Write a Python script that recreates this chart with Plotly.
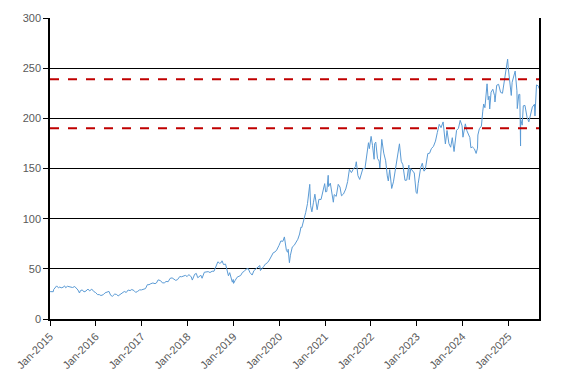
import plotly.graph_objects as go

dates = [
"2015-01-02","2015-01-14","2015-01-27","2015-01-30","2015-02-13","2015-02-23","2015-03-10","2015-03-20","2015-03-31","2015-04-15","2015-04-27","2015-05-06","2015-05-20","2015-06-05","2015-06-19","2015-06-30","2015-07-17","2015-07-31","2015-08-12","2015-08-24","2015-08-31","2015-09-15","2015-09-29","2015-10-15","2015-10-30","2015-11-13","2015-11-30","2015-12-15","2015-12-31",
"2016-01-15","2016-01-29","2016-02-11","2016-02-29","2016-03-15","2016-03-31","2016-04-15","2016-04-28","2016-05-12","2016-05-31","2016-06-15","2016-06-27","2016-07-15","2016-07-29","2016-08-15","2016-08-31","2016-09-15","2016-09-30","2016-10-14","2016-10-31","2016-11-14","2016-11-30","2016-12-15","2016-12-30",
"2017-01-13","2017-01-31","2017-02-15","2017-02-28","2017-03-15","2017-03-31","2017-04-17","2017-04-28","2017-05-12","2017-05-31","2017-06-15","2017-06-30","2017-07-14","2017-07-31","2017-08-15","2017-08-31","2017-09-15","2017-09-29","2017-10-13","2017-10-31","2017-11-15","2017-11-30","2017-12-15","2017-12-29",
"2018-01-12","2018-01-31","2018-02-08","2018-02-27","2018-03-12","2018-03-23","2018-04-02","2018-04-16","2018-04-27","2018-05-15","2018-05-31","2018-06-15","2018-06-29","2018-07-16","2018-07-31","2018-08-15","2018-08-31","2018-09-14","2018-09-28","2018-10-03","2018-10-15","2018-10-31","2018-11-15","2018-11-23","2018-12-03","2018-12-14","2018-12-24","2018-12-31",
"2019-01-03","2019-01-15","2019-01-31","2019-02-15","2019-02-28","2019-03-15","2019-03-29","2019-04-15","2019-04-30","2019-05-13","2019-05-31","2019-06-14","2019-06-28","2019-07-15","2019-07-31","2019-08-05","2019-08-15","2019-08-30","2019-09-13","2019-09-30","2019-10-15","2019-10-31","2019-11-15","2019-11-29","2019-12-13","2019-12-31",
"2020-01-15","2020-01-31","2020-02-12","2020-02-28","2020-03-09","2020-03-13","2020-03-16","2020-03-23","2020-03-31","2020-04-15","2020-04-30","2020-05-15","2020-05-29","2020-06-12","2020-06-23","2020-06-30","2020-07-15","2020-07-31","2020-08-14","2020-08-31","2020-09-01","2020-09-08","2020-09-18","2020-09-30","2020-10-12","2020-10-30","2020-11-13","2020-11-30","2020-12-15","2020-12-29",
"2021-01-06","2021-01-15","2021-01-26","2021-01-29","2021-02-12","2021-02-26","2021-03-08","2021-03-15","2021-03-31","2021-04-16","2021-04-30","2021-05-12","2021-05-28","2021-06-15","2021-06-30","2021-07-14","2021-07-30","2021-08-13","2021-08-31","2021-09-07","2021-09-20","2021-10-04","2021-10-15","2021-10-29","2021-11-15","2021-11-30","2021-12-13","2021-12-20",
"2022-01-03","2022-01-14","2022-01-27","2022-01-31","2022-02-09","2022-02-23","2022-03-08","2022-03-14","2022-03-29","2022-04-14","2022-04-29","2022-05-12","2022-05-20","2022-05-31","2022-06-16","2022-06-30","2022-07-15","2022-07-29","2022-08-17","2022-08-31","2022-09-13","2022-09-30","2022-10-14","2022-10-31","2022-11-03","2022-11-15","2022-11-30","2022-12-13","2022-12-28",
"2023-01-05","2023-01-13","2023-02-02","2023-02-15","2023-02-28","2023-03-10","2023-03-31","2023-04-14","2023-04-28","2023-05-15","2023-05-31","2023-06-15","2023-06-30","2023-07-14","2023-07-31","2023-08-18","2023-08-31","2023-09-15","2023-09-29","2023-10-12","2023-10-26","2023-11-15","2023-11-30","2023-12-14","2023-12-29",
"2024-01-05","2024-01-24","2024-02-05","2024-02-15","2024-02-29","2024-03-08","2024-03-21","2024-04-05","2024-04-19","2024-04-30","2024-05-03","2024-05-15","2024-05-31","2024-06-11","2024-06-18","2024-06-28","2024-07-15","2024-07-24","2024-07-31","2024-08-05","2024-08-16","2024-08-30","2024-09-13","2024-09-16","2024-09-30","2024-10-15","2024-10-31","2024-11-15","2024-11-29","2024-12-16","2024-12-26","2024-12-31",
"2025-01-10","2025-01-16","2025-01-24","2025-01-31","2025-02-14","2025-02-24","2025-03-10","2025-03-13","2025-03-25","2025-04-02","2025-04-08","2025-04-09","2025-04-21","2025-04-30","2025-05-13","2025-05-30","2025-06-13","2025-06-30","2025-07-11","2025-07-28","2025-08-01","2025-08-13","2025-08-29","2025-09-02",
]

prices = [
27.3,27.4,27.2,29.3,31.8,33.0,31.0,31.9,31.1,31.6,33.0,31.2,32.6,32.0,31.7,31.4,32.4,30.3,28.9,25.9,28.2,29.0,27.0,27.9,29.9,28.0,29.8,27.5,26.3,
24.3,24.3,23.4,24.2,26.1,27.2,27.5,23.7,22.6,24.9,24.4,23.0,24.7,26.1,27.4,26.5,28.9,28.3,29.4,28.4,26.5,27.6,29.0,29.0,
29.8,30.3,34.2,34.2,35.2,35.9,35.2,35.9,39.0,38.2,36.0,36.0,37.4,37.2,40.5,41.0,39.7,38.5,39.2,42.3,42.1,42.9,43.5,42.3,
44.3,41.9,38.8,44.6,45.4,41.2,41.9,43.8,40.6,46.6,46.7,47.2,46.3,47.6,47.6,52.1,57.0,55.5,56.4,58.0,54.3,54.7,47.9,43.1,46.2,41.4,36.7,39.4,
35.5,38.3,41.6,42.6,43.3,46.5,47.5,49.9,50.2,46.4,43.8,48.2,49.5,51.1,53.3,48.3,50.4,52.2,54.7,56.1,58.8,62.2,66.0,66.8,68.8,73.4,
77.8,77.4,81.8,68.3,66.5,69.5,60.6,56.1,63.6,71.8,73.4,76.9,79.5,84.7,91.6,91.2,97.7,106.3,115.0,129.0,134.2,112.8,106.8,115.8,124.4,108.9,119.3,119.1,127.9,134.9,
126.6,127.1,143.2,132.0,135.4,121.3,116.4,124.0,122.2,134.2,131.5,122.8,124.6,129.6,137.0,149.2,145.9,149.1,151.8,156.7,142.9,139.1,144.8,149.8,150.0,165.3,175.7,169.8,
182.0,173.1,159.2,174.8,176.3,160.1,157.4,150.6,179.0,165.3,157.7,142.6,137.6,148.8,130.1,136.7,150.2,162.5,174.6,157.2,153.8,138.2,138.4,153.3,138.9,150.0,148.0,145.5,126.0,
125.0,134.8,150.8,155.3,147.4,148.5,164.9,165.2,169.7,172.1,177.3,186.0,194.0,190.7,196.4,174.5,187.9,175.0,171.2,180.7,166.9,188.0,190.0,198.0,192.5,
181.2,194.5,187.7,184.0,180.8,170.7,171.4,169.6,165.0,170.3,183.4,189.7,192.3,207.2,214.3,210.6,234.4,218.5,222.1,209.3,226.1,229.0,222.5,216.3,233.0,233.9,225.9,225.0,237.3,251.0,259.0,250.4,
236.9,228.3,222.8,236.0,244.6,247.1,227.5,209.7,223.8,223.9,172.4,198.9,193.2,212.5,212.9,200.9,196.5,205.2,211.2,214.1,202.4,233.3,232.1,229.7,
]

thresholds = [239, 190]

tick_years = list(range(2015, 2026))
tick_vals = [f"{y}-01-01" for y in tick_years]
tick_text = [f"Jan-{y}" for y in tick_years]

fig = go.Figure()
fig.add_trace(go.Scatter(x=dates, y=prices, mode="lines",
                         line=dict(color="#5B9BD5", width=1), showlegend=False))

for t in thresholds:
    fig.add_shape(type="line", xref="paper", x0=0, x1=1, yref="y", y0=t, y1=t,
                  line=dict(color="#C00000", width=2, dash="dash"))

font = dict(family="Liberation Sans, Arial, sans-serif", size=11, color="#595959")

fig.update_layout(
    width=567, height=383,
    margin=dict(l=50, r=28, t=16, b=64),
    paper_bgcolor="white", plot_bgcolor="white",
    font=font,
    xaxis=dict(type="date", range=["2015-01-01", dates[-1]],
               tickvals=tick_vals, ticktext=tick_text, tickangle=-45,
               showgrid=False, showline=True, linecolor="black", linewidth=1.5,
               ticks="outside", ticklen=5, tickcolor="black", tickfont=font,
               zeroline=False),
    yaxis=dict(range=[0, 300], dtick=50, showgrid=True, gridcolor="black", gridwidth=1,
               showline=True, linecolor="black", linewidth=1.5, mirror=True,
               ticks="outside", ticklen=5, tickcolor="black", tickfont=font,
               zeroline=False),
)

fig.write_html("out.html", config={"displayModeBar": False},
               post_script="document.body.style.margin='0';document.body.style.overflow='hidden';")
